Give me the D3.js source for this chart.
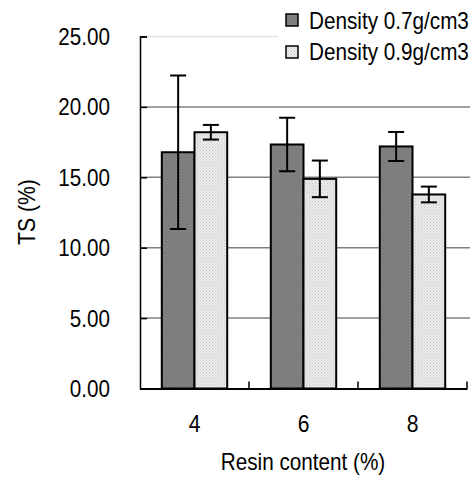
<!DOCTYPE html>
<html>
<head>
<meta charset="utf-8">
<script src="https://cdn.jsdelivr.net/npm/d3@7"></script>
<style>
  body { margin: 0; background: #fff; }
  text { font-family: "Liberation Sans", Arial, sans-serif; fill: #000; }
</style>
</head>
<body>
<div id="canvas"></div>
<script>
// chart data
const categories = ["4", "6", "8"];
const seriesNames = ["Density 0.7g/cm3", "Density 0.9g/cm3"];
const density07 = [16.78, 17.33, 17.19];
const density07Err = [5.45, 1.9, 1.03];
const density09 = [18.2, 14.89, 13.78];
const density09Err = [0.52, 1.3, 0.56];
const yTicks = [0, 5, 10, 15, 20, 25];

const width = 474;
const height = 482;
const margin = {left: 140, right: 7, top: 36.5, bottom: 93.5};

const svg = d3.select("#canvas")
    .append("svg")
    .attr("width", width)
    .attr("height", height);

// the original text is a bit narrow, squeeze it sideways
function squeezedText(g, x, y, str, size, sx, anchor) {
    return g.append("text")
        .attr("transform", `translate(${x},${y}) scale(${sx},1)`)
        .attr("font-size", size)
        .attr("text-anchor", anchor || "start")
        .text(str);
}

// stipple fills for the two bar kinds
const defs = svg.append("defs");
function addPattern(id, bg, dot) {
    const p = defs.append("pattern")
        .attr("id", id)
        .attr("width", 3).attr("height", 3)
        .attr("patternUnits", "userSpaceOnUse");
    p.append("rect").attr("width", 3).attr("height", 3).attr("fill", bg);
    p.append("rect").attr("x", 0).attr("y", 0).attr("width", 1).attr("height", 1).attr("fill", dot);
    p.append("rect").attr("x", 1.5).attr("y", 1.5).attr("width", 1).attr("height", 1).attr("fill", dot);
}
addPattern("darkFill", "#7a7a7a", "#8c8c8c");
addPattern("lightFill", "#ececec", "#c4c4c4");
const fills = ["url(#darkFill)", "url(#lightFill)"];

const x0 = d3.scaleBand()
    .domain(categories)
    .range([margin.left, width - margin.right]);
const x1 = d3.scaleBand()
    .domain(seriesNames)
    .range([x0.bandwidth() * 0.2, x0.bandwidth() * 0.8]);
const y = d3.scaleLinear()
    .domain([0, 25])
    .range([height - margin.bottom, margin.top]);

// gridlines
svg.append("g").selectAll("line")
    .data(yTicks.filter(d => d > 0))
    .join("line")
    .attr("x1", margin.left)
    .attr("x2", width - margin.right + 3)
    .attr("y1", d => y(d))
    .attr("y2", d => y(d))
    .attr("stroke", d => d == 25 ? "#e2e2e2" : "#808080")
    .attr("stroke-width", 1.5);

// bars
const rows = categories.map((c, i) => [
    {cat: c, s: seriesNames[0], v: density07[i], e: density07Err[i], k: 0},
    {cat: c, s: seriesNames[1], v: density09[i], e: density09Err[i], k: 1}
]);
const groups = svg.append("g").selectAll("g")
    .data(rows)
    .join("g")
    .attr("transform", d => `translate(${x0(d[0].cat)},0)`);
groups.selectAll("rect")
    .data(d => d)
    .join("rect")
    .attr("x", d => x1(d.s))
    .attr("y", d => y(d.v))
    .attr("width", x1.bandwidth())
    .attr("height", d => y(0) - y(d.v))
    .attr("fill", d => fills[d.k])
    .attr("stroke", "#000")
    .attr("stroke-width", 2);

// error bars
const cap = 8;
groups.selectAll("g.err")
    .data(d => d)
    .join("g")
    .attr("class", "err")
    .each(function(d) {
        const g = d3.select(this);
        const cx = x1(d.s) + x1.bandwidth() / 2;
        g.append("line").attr("x1", cx).attr("x2", cx)
            .attr("y1", y(d.v + d.e)).attr("y2", y(d.v - d.e));
        g.append("line").attr("x1", cx - cap).attr("x2", cx + cap)
            .attr("y1", y(d.v + d.e)).attr("y2", y(d.v + d.e));
        g.append("line").attr("x1", cx - cap).attr("x2", cx + cap)
            .attr("y1", y(d.v - d.e)).attr("y2", y(d.v - d.e));
    })
    .selectAll("line")
    .attr("stroke", "#000")
    .attr("stroke-width", 2);

// y axis
const yAxis = svg.append("g")
    .attr("transform", `translate(${margin.left},0)`)
    .call(d3.axisRight(y).tickValues(yTicks).tickSize(7).tickFormat(""));
yAxis.select(".domain").attr("stroke", "#000").attr("stroke-width", 1.5);
yAxis.selectAll(".tick line").attr("stroke", "#000").attr("stroke-width", 1.5);
const yLabels = svg.append("g");
yTicks.forEach(d => squeezedText(yLabels, 110, y(d) + 8.5, d.toFixed(2), 24, 0.86, "end"));

// x axis
const xAxis = svg.append("g")
    .attr("transform", `translate(0,${y(0)})`)
    .call(d3.axisBottom(x0).tickSize(0).tickFormat(""));
xAxis.select(".domain").attr("stroke", "#000").attr("stroke-width", 2);
xAxis.selectAll(".tick").remove();
xAxis.selectAll("line.sep")
    .data(categories)
    .join("line")
    .attr("class", "sep")
    .attr("x1", d => x0(d) + x0.bandwidth())
    .attr("x2", d => x0(d) + x0.bandwidth())
    .attr("y1", 0).attr("y2", -7)
    .attr("stroke", "#000").attr("stroke-width", 1.5);
const xLabels = svg.append("g");
categories.forEach(c => squeezedText(xLabels, x0(c) + x0.bandwidth() / 2, 432, c, 24, 0.88, "middle"));

// axis titles
squeezedText(svg, 303, 470, "Resin content (%)", 23, 0.9, "middle");
svg.append("text")
    .attr("transform", "translate(35,212) rotate(-90) scale(0.92,1)")
    .attr("text-anchor", "middle")
    .attr("font-size", 23)
    .text("TS (%)");

// legend
const legend = svg.append("g");
legend.append("rect")
    .attr("x", 278).attr("y", 0).attr("width", 196).attr("height", 68)
    .attr("fill", "#fff");
seriesNames.forEach((s, i) => {
    legend.append("rect")
        .attr("x", 286).attr("y", 14 + i * 32)
        .attr("width", 12).attr("height", 12)
        .attr("fill", fills[i])
        .attr("stroke", "#000").attr("stroke-width", 1.5);
    squeezedText(legend, 309, 29 + i * 31, s, 23, 0.9);
});
</script>
</body>
</html>
